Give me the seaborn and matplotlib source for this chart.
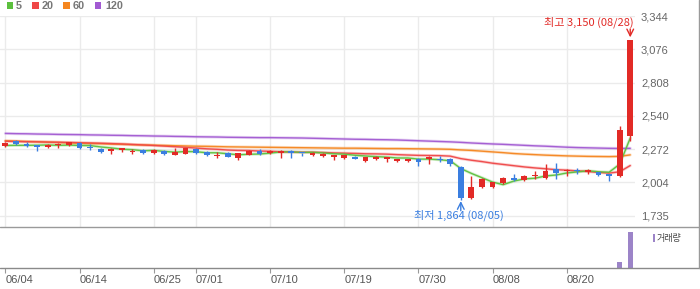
import numpy as np
import pandas as pd
import matplotlib
matplotlib.use("Agg")
import matplotlib.pyplot as plt
from matplotlib.lines import Line2D
from matplotlib.patches import Rectangle
import seaborn as sns

# ---------------- data ----------------
dates = ["06/04", "06/05", "06/07", "06/10", "06/11", "06/12", "06/13", "06/14", "06/17", "06/18",
         "06/19", "06/20", "06/21", "06/24", "06/25", "06/26", "06/27", "06/28", "07/01", "07/02",
         "07/03", "07/04", "07/05", "07/08", "07/09", "07/10", "07/11", "07/12", "07/15", "07/16",
         "07/17", "07/18", "07/19", "07/22", "07/23", "07/24", "07/25", "07/26", "07/29", "07/30",
         "07/31", "08/01", "08/02", "08/05", "08/06", "08/07", "08/08", "08/09", "08/12", "08/13",
         "08/14", "08/16", "08/19", "08/20", "08/21", "08/22", "08/23", "08/26", "08/27", "08/28"]

opens = [2293, 2337, 2312, 2301, 2285, 2301, 2301, 2320, 2291, 2272,
         2253, 2264, 2245, 2267, 2237, 2259, 2226, 2234, 2275, 2248,
         2216, 2238, 2202, 2226, 2259, 2237, 2237, 2259, 2242, 2224,
         2216, 2210, 2200, 2205, 2173, 2189, 2189, 2173, 2178, 2189,
         2189, 2194, 2194, 2130, 1876, 1964, 1970, 1996, 2036, 2025,
         2055, 2041, 2108, 2092, 2106, 2090, 2087, 2072, 2052, 2379]

highs = [2327, 2341, 2325, 2303, 2312, 2320, 2327, 2331, 2309, 2280,
         2280, 2282, 2272, 2272, 2272, 2261, 2280, 2279, 2277, 2258,
         2246, 2248, 2239, 2267, 2269, 2261, 2261, 2261, 2244, 2248,
         2240, 2228, 2223, 2218, 2212, 2218, 2207, 2194, 2194, 2202,
         2218, 2218, 2196, 2132, 2058, 2035, 2006, 2043, 2068, 2063,
         2095, 2154, 2156, 2111, 2119, 2114, 2089, 2074, 2454, 3150]

lows = [2290, 2301, 2285, 2253, 2277, 2277, 2299, 2276, 2267, 2240,
        2234, 2248, 2232, 2229, 2229, 2228, 2226, 2232, 2235, 2219,
        2198, 2207, 2181, 2225, 2221, 2235, 2197, 2197, 2213, 2218,
        2205, 2186, 2192, 2191, 2168, 2181, 2168, 2165, 2165, 2132,
        2148, 2165, 2132, 1864, 1866, 1962, 1957, 1994, 2015, 2017,
        2028, 2031, 2031, 2058, 2068, 2068, 2055, 2012, 2047, 2333]

closes = [2323, 2315, 2296, 2288, 2304, 2309, 2325, 2277, 2283, 2250,
          2269, 2277, 2256, 2240, 2264, 2229, 2248, 2277, 2237, 2221,
          2226, 2208, 2237, 2259, 2232, 2259, 2259, 2237, 2237, 2240,
          2232, 2226, 2221, 2192, 2210, 2205, 2205, 2189, 2189, 2165,
          2205, 2181, 2148, 1875, 1970, 2033, 2004, 2041, 2023, 2052,
          2063, 2098, 2079, 2103, 2098, 2106, 2060, 2058, 2427, 3150]

ma5 = [2301, 2302, 2302, 2303, 2305, 2302, 2304, 2301, 2300, 2289,
       2281, 2271, 2267, 2258, 2261, 2253, 2247, 2252, 2251, 2242,
       2242, 2234, 2226, 2230, 2232, 2239, 2249, 2249, 2245, 2246,
       2241, 2234, 2231, 2222, 2216, 2211, 2207, 2200, 2200, 2191,
       2191, 2186, 2178, 2115, 2076, 2041, 2006, 1985, 2014, 2031,
       2037, 2055, 2063, 2079, 2088, 2097, 2089, 2085, 2150, 2360]

ma20 = [2335, 2333, 2331, 2330, 2328, 2327, 2325, 2323, 2321, 2319,
        2316, 2313, 2309, 2305, 2301, 2296, 2291, 2286, 2280, 2274,
        2270, 2264, 2261, 2260, 2256, 2254, 2250, 2248, 2246, 2246,
        2244, 2241, 2239, 2237, 2234, 2233, 2231, 2227, 2224, 2221,
        2220, 2219, 2215, 2195, 2182, 2171, 2158, 2148, 2138, 2128,
        2120, 2113, 2106, 2102, 2096, 2091, 2084, 2078, 2089, 2139]

ma60 = [2339, 2336, 2333, 2331, 2328, 2325, 2322, 2319, 2317, 2315,
        2312, 2310, 2307, 2305, 2303, 2301, 2299, 2297, 2295, 2294,
        2292, 2290, 2289, 2288, 2287, 2286, 2285, 2284, 2283, 2282,
        2281, 2280, 2279, 2279, 2278, 2277, 2276, 2276, 2275, 2274,
        2273, 2272, 2270, 2265, 2261, 2255, 2249, 2243, 2236, 2231,
        2227, 2223, 2220, 2217, 2215, 2213, 2212, 2211, 2213, 2225]

ma120 = [2398, 2396, 2395, 2393, 2392, 2390, 2389, 2388, 2386, 2385,
         2383, 2382, 2380, 2379, 2377, 2376, 2374, 2373, 2371, 2370,
         2369, 2367, 2366, 2365, 2364, 2364, 2363, 2362, 2361, 2359,
         2357, 2355, 2353, 2351, 2350, 2348, 2347, 2345, 2342, 2339,
         2336, 2333, 2330, 2326, 2321, 2317, 2313, 2310, 2306, 2302,
         2298, 2295, 2291, 2287, 2284, 2282, 2280, 2278, 2277, 2278]

volume = [21000, 18000, 15000, 17000, 14000, 16000, 19000, 15000, 13000, 17000,
          14000, 12000, 15000, 16000, 13000, 14000, 12000, 15000, 13000, 14000,
          12000, 13000, 15000, 14000, 12000, 13000, 14000, 12000, 11000, 13000,
          12000, 14000, 13000, 15000, 12000, 11000, 13000, 12000, 14000, 16000,
          15000, 13000, 18000, 45000, 30000, 22000, 19000, 17000, 16000, 15000,
          18000, 25000, 21000, 17000, 15000, 16000, 14000, 17000, 1040000, 6000000]

tick_dates = ["06/04", "06/14", "06/25", "07/01", "07/10", "07/19", "07/30", "08/08", "08/20"]
y_ticks = [1735, 2004, 2272, 2540, 2808, 3076, 3344]
y_tick_labels = ["1,735", "2,004", "2,272", "2,540", "2,808", "3,076", "3,344"]
ma_labels = ["5", "20", "60", "120"]

# ---------------- style ----------------
sns.set_theme(style="white")
plt.rcParams['font.family'] = ['Liberation Sans', 'DejaVu Sans']

RED = '#e22a26'
BLUE = '#3a7ee0'
MA_COLORS = ['#5cc03e', '#ef4747', '#f5861f', '#a25ad2']
GRID = '#ebebeb'
TXT = '#666666'
KFONT = ['Noto Sans CJK KR', 'DejaVu Sans']

W, H = 700, 289
fig = plt.figure(figsize=(W / 100, H / 100), dpi=100)
fig.patch.set_facecolor('white')

def fx(px):
    return px / W

def fy(py):
    return 1 - py / H

# main price axes: y 16..227 px, x 0..635 px
ax = fig.add_axes([0, fy(227), fx(635), (227 - 16) / H])
axv = fig.add_axes([0, fy(268), fx(635), (268 - 227) / H])

n = len(dates)
x = np.arange(n)
tick_idx = [dates.index(d) for d in tick_dates]
XLIM = (-0.51, 59.45)

df = pd.DataFrame({"x": x, "open": opens, "high": highs, "low": lows, "close": closes,
                   "ma5": ma5, "ma20": ma20, "ma60": ma60, "ma120": ma120, "volume": volume})

# grid
for yt in y_ticks:
    ax.axhline(yt, color=GRID, lw=1, zorder=0)
for ti in tick_idx:
    ax.axvline(ti, color=GRID, lw=1, zorder=0)

# moving averages
for col, c in zip(["ma120", "ma60", "ma20", "ma5"], MA_COLORS[::-1]):
    sns.lineplot(data=df, x="x", y=col, ax=ax, color=c, lw=2.2, alpha=0.25, zorder=1)
    sns.lineplot(data=df, x="x", y=col, ax=ax, color=c, lw=1.0, alpha=0.95, zorder=2)

# candles
o = df["open"].to_numpy(float)
c_ = df["close"].to_numpy(float)
up = c_ >= o
cols = np.where(up, RED, BLUE)
ax.vlines(x, df["low"], df["high"], colors=cols, lw=1, zorder=3)
bottom = np.minimum(o, c_)
height = np.maximum(np.abs(c_ - o), 9)
ax.bar(x, height, bottom=bottom, width=0.55, color=cols, linewidth=0, zorder=4)

ax.set_xlim(*XLIM)
ax.set_ylim(1644, 3344)
ax.set_xticks([])
ax.set_yticks(y_ticks)
ax.set_yticklabels(y_tick_labels)
ax.yaxis.tick_right()
ax.tick_params(axis='y', length=0, pad=4.3, labelsize=8, labelcolor=TXT)
ax.set_xlabel("")
ax.set_ylabel("")
for s in ax.spines.values():
    s.set_visible(False)
ax.set_facecolor('none')

# annotations
i_hi = int(np.argmax(highs))
i_lo = int(np.argmin(lows))
ax.text(59.36, 3296, f"최고 {highs[i_hi]:,} ({dates[i_hi]})", color=RED, fontsize=8,
        family=KFONT, ha='right', va='center', zorder=6)
ax.annotate('', xy=(i_hi, 3172), xytext=(i_hi, 3240),
            arrowprops=dict(arrowstyle='->', color=RED, lw=1, shrinkA=0, shrinkB=0), zorder=6)
ax.text(42.83, 1741, f"최저 {lows[i_lo]:,} ({dates[i_lo]})", color=BLUE, fontsize=8,
        family=KFONT, ha='center', va='center', zorder=6)
ax.annotate('', xy=(i_lo, 1853), xytext=(i_lo, 1775),
            arrowprops=dict(arrowstyle='->', color=BLUE, lw=1, shrinkA=0, shrinkB=0), zorder=6)

# volume
VCOL = '#9c84c8'
axv.bar(x, df["volume"], width=0.5, color=VCOL, linewidth=0)
axv.set_xlim(*XLIM)
axv.set_ylim(0, 6.78e6)
axv.set_yticks([])
axv.set_xticks(tick_idx)
axv.set_xticklabels(tick_dates)
for lbl in axv.get_xticklabels():
    lbl.set_ha('left')
axv.tick_params(axis='x', direction='out', length=3.5, width=0.8, color='#999999',
                pad=1.5, labelsize=8, labelcolor='#555555', bottom=True)
axv.set_xlabel("")
axv.set_ylabel("")
for s in axv.spines.values():
    s.set_visible(False)
axv.set_facecolor('none')

# frame lines across figure
fig.add_artist(Line2D([0, 1], [fy(227), fy(227)], transform=fig.transFigure, color='#9a9a9a', lw=1))
fig.add_artist(Line2D([0, 1], [fy(268), fy(268)], transform=fig.transFigure, color='#8a8a8a', lw=1))
fig.add_artist(Line2D([fx(699), fx(699)], [fy(0), fy(268)], transform=fig.transFigure, color='#9a9a9a', lw=1))

# MA legend at top
leg_sq_x = [6.5, 32, 63, 95]
leg_tx_x = [16, 42, 73, 105]
for sx, tx, c, lab in zip(leg_sq_x, leg_tx_x, MA_COLORS, ma_labels):
    fig.add_artist(Rectangle((fx(sx), fy(8.8)), fx(6.5), 6.5 / H, transform=fig.transFigure,
                             facecolor=c, edgecolor='none'))
    fig.text(fx(tx), fy(5.6), lab, fontsize=7.8, fontweight='bold', color='#777777',
             ha='left', va='center')

# volume legend
fig.add_artist(Rectangle((fx(653), fy(242)), fx(2.2), 8 / H, transform=fig.transFigure,
                         facecolor=VCOL, edgecolor='none'))
fig.text(fx(657), fy(238), "거래량", fontsize=6.5, color='#444444', family=KFONT,
         ha='left', va='center')

fig.savefig("out.png", dpi=100, facecolor='white')
